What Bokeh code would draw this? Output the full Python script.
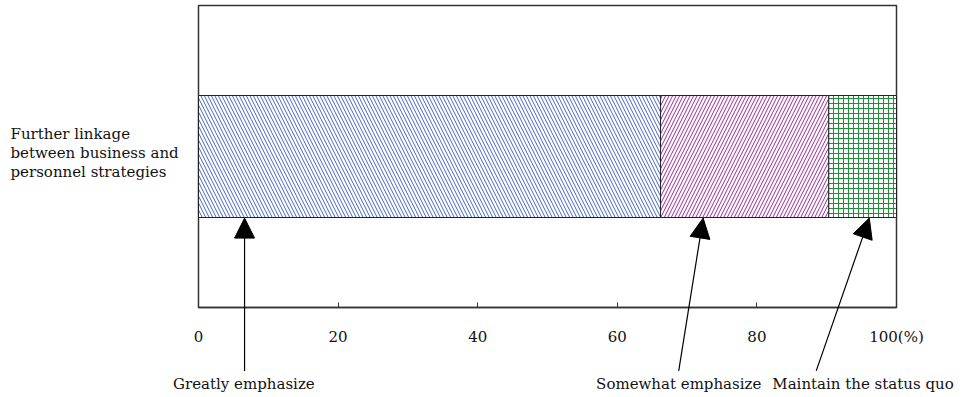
from bokeh.plotting import figure
from bokeh.models import (ColumnDataSource, LinearAxis, FixedTicker,
                          Arrow, NormalHead, Range1d, BoxAnnotation)
from bokeh.core.properties import value
from bokeh.embed import file_html
from bokeh.resources import INLINE

# ---- data ----
category_lines = ["Further linkage", "between business and", "personnel strategies"]
segments = ["Greatly emphasize", "Somewhat emphasize", "Maintain the status quo"]
values = [66.2, 24.1, 9.7]
tick_values = [0, 20, 40, 60, 80, 100]
tick_labels = ["0", "20", "40", "60", "80", "100(%)"]
# arrow pointing positions (x in %) and label anchor positions (x in %)
arrow_tip_x = [6.6, 72.3, 96.1]
arrow_tail_x = [6.6, 68.8, 88.5]
label_x = [6.5, 68.8, 95.2]

FONT = "DejaVu Serif"
FS = "15px"
hatch_patterns = ["\\", "/", "+"]
hatch_colors = ["#4466c0", "#9a2a9a", "#1f8f3a"]
hatch_scales = [7, 7, 5]

# layout: plot box spans 198..896 px horizontally, 5..307 px vertically
W, H = 967, 397
BL, BR, BT, BB = 198, 896, 5, 307
ppx = (BR - BL) / 100.0
ppy = (BB - BT) / 1.0
x_rng = Range1d(-BL / ppx, 100 + (W - BR) / ppx)
y_rng = Range1d(-(H - BB) / ppy, 1 + BT / ppy)

p = figure(width=W, height=H, output_backend="svg", toolbar_location=None,
           x_range=x_rng, y_range=y_rng,
           y_axis_location=None, x_axis_location=None,
           min_border=0)
p.xgrid.visible = False
p.ygrid.visible = False
p.outline_line_color = None
p.background_fill_color = "white"
p.border_fill_color = "white"

# plot box
p.add_layout(BoxAnnotation(left=0, right=100, bottom=0, top=1, fill_color=None,
                           fill_alpha=0, line_color="#333333", line_alpha=1.0,
                           line_width=1.5, level="underlay"))

# bars
lefts = []
acc = 0.0
for v in values:
    lefts.append(acc)
    acc += v
rights = [l + v for l, v in zip(lefts, values)]
for i in range(len(values)):
    p.hbar(y=[0.5], left=[lefts[i]], right=[rights[i]], height=0.404,
           fill_color="white", line_color="#222222", line_width=1,
           hatch_pattern=hatch_patterns[i], hatch_color=hatch_colors[i],
           hatch_scale=hatch_scales[i], hatch_weight=1)

# x axis placed at the bottom of the plot box
ax = LinearAxis(ticker=FixedTicker(ticks=tick_values), fixed_location=0, bounds=(0, 100),
                major_label_overrides={t: s for t, s in zip(tick_values, tick_labels)})
ax.axis_line_color = "#333333"
ax.axis_line_width = 1.5
ax.major_tick_in = 5
ax.major_tick_out = 0
ax.major_tick_line_color = "#333333"
ax.minor_tick_line_color = None
ax.major_label_standoff = 20
ax.major_label_text_font = FONT
ax.major_label_text_font_size = FS
ax.major_label_text_color = "#111111"
p.add_layout(ax, "below")

# category label (one text per line, left aligned)
line_step = 19 / ppy
n = len(category_lines)
cat_src = ColumnDataSource(dict(
    x=[-BL / ppx + 10 / ppx] * n,
    y=[0.513 + (n - 1) / 2 * line_step - i * line_step for i in range(n)],
    text=category_lines))
p.text(x="x", y="y", text="text", source=cat_src, text_font=value(FONT),
       text_font_size=value(FS), text_align="left", text_baseline="middle",
       text_color="#111111")

# arrows
for tx, sx in zip(arrow_tip_x, arrow_tail_x):
    p.add_layout(Arrow(x_start=sx, y_start=-0.21, x_end=tx, y_end=0.296,
                       line_color="black", line_width=1.2,
                       end=NormalHead(size=20, fill_color="black", line_color="black")))

src = ColumnDataSource(dict(x=label_x, y=[-0.253] * 3, text=segments))
p.text(x="x", y="y", text="text", source=src, text_font=value(FONT),
       text_font_size=value(FS), text_align="center", text_baseline="middle",
       text_color="#111111")

open("out.html", "w").write(file_html(p, INLINE))
